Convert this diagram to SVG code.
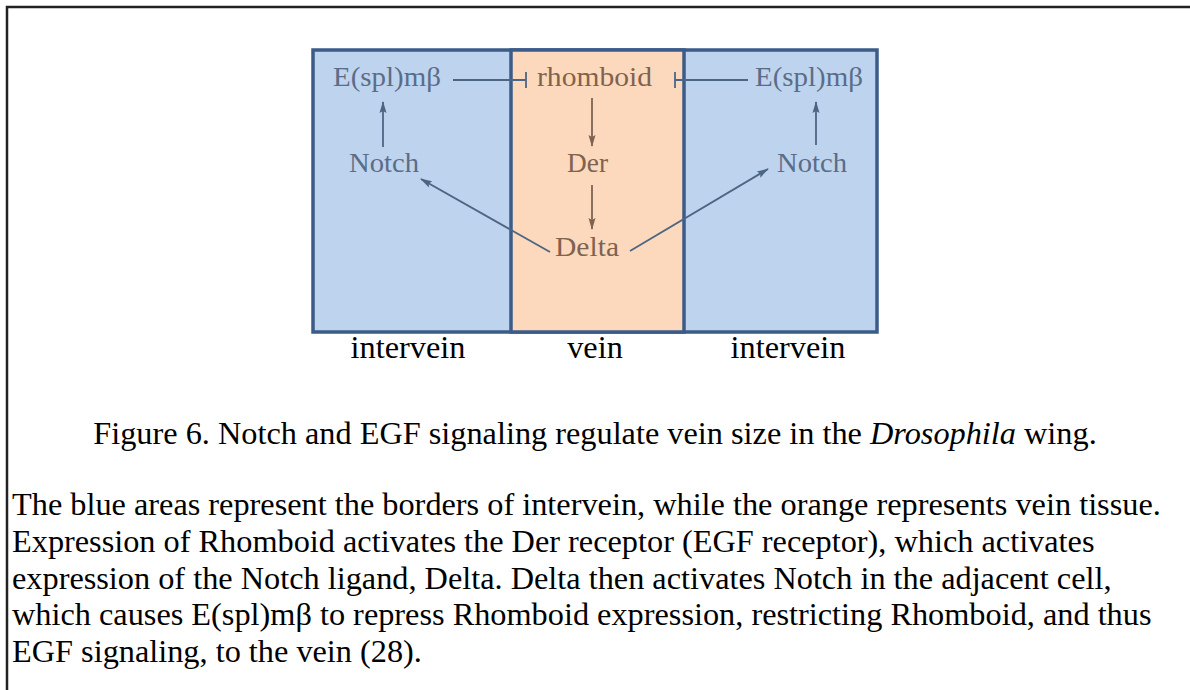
<svg xmlns="http://www.w3.org/2000/svg" width="1190" height="690" viewBox="0 0 1190 690">
<style>
.blue{fill:#bed3ed;stroke:#3b5b88;stroke-width:3.5}
.orange{fill:#fcd9bd;stroke:#3b5b88;stroke-width:3.5}
.bt{font-family:"Liberation Serif",serif;font-size:28px;fill:#5a6d88}
.ot{font-family:"Liberation Serif",serif;font-size:28px;fill:#7f634f}
.lab{font-family:"Liberation Serif",serif;font-size:32.3px;fill:#000}
.cap{font-family:"Liberation Serif",serif;font-size:32.3px;fill:#000}
.bl{stroke:#4d6584;stroke-width:1.8;fill:none}
.ol{stroke:#7d6452;stroke-width:1.8;fill:none}
</style>
<defs>
<marker id="ab" viewBox="0 0 12 8" refX="11" refY="4" markerWidth="12" markerHeight="8" orient="auto" markerUnits="userSpaceOnUse"><path d="M0,0.5 L12,4 L0,7.5 L2,4 Z" fill="#4d6584"/></marker>
<marker id="ao" viewBox="0 0 12 8" refX="11" refY="4" markerWidth="12" markerHeight="8" orient="auto" markerUnits="userSpaceOnUse"><path d="M0,0.5 L12,4 L0,7.5 L2,4 Z" fill="#7d6452"/></marker>
</defs>
<path d="M1190,7 H7 V690" fill="none" stroke="#222" stroke-width="2.5"/>
<g id="panels">
<rect class="blue" x="313" y="50" width="564" height="282"/>
<rect class="orange" x="511" y="50" width="173" height="282"/>
</g>
<g id="connectors">
<line class="bl" x1="453" y1="80" x2="526" y2="80"/>
<line class="bl" x1="526" y1="72" x2="526" y2="88"/>
<line class="bl" x1="675" y1="80" x2="748" y2="80"/>
<line class="bl" x1="675" y1="72" x2="675" y2="88"/>
<line class="bl" x1="383" y1="147" x2="383" y2="102" marker-end="url(#ab)"/>
<line class="bl" x1="816" y1="145" x2="816" y2="102" marker-end="url(#ab)"/>
<line class="ol" x1="592" y1="98" x2="592" y2="146" marker-end="url(#ao)"/>
<line class="ol" x1="592" y1="185" x2="592" y2="229" marker-end="url(#ao)"/>
<line class="bl" x1="550" y1="252" x2="421" y2="179" marker-end="url(#ab)"/>
<line class="bl" x1="630" y1="251" x2="768" y2="169" marker-end="url(#ab)"/>
</g>
<g id="espl-left"><text class="bt" x="333" y="86" textLength="108" lengthAdjust="spacingAndGlyphs">E(spl)mβ</text></g>
<g id="rhomboid"><text class="ot" x="537" y="86" textLength="115" lengthAdjust="spacingAndGlyphs">rhomboid</text></g>
<g id="espl-right"><text class="bt" x="755" y="86" textLength="108" lengthAdjust="spacingAndGlyphs">E(spl)mβ</text></g>
<g id="notch-left"><text class="bt" x="349" y="172" textLength="70" lengthAdjust="spacingAndGlyphs">Notch</text></g>
<g id="der"><text class="ot" x="567" y="172" textLength="41" lengthAdjust="spacingAndGlyphs">Der</text></g>
<g id="notch-right"><text class="bt" x="777" y="172" textLength="70" lengthAdjust="spacingAndGlyphs">Notch</text></g>
<g id="delta"><text class="ot" x="555" y="256" textLength="64" lengthAdjust="spacingAndGlyphs">Delta</text></g>
<g id="labels">
<text class="lab" x="408" y="358" text-anchor="middle">intervein</text>
<text class="lab" x="595" y="358" text-anchor="middle">vein</text>
<text class="lab" x="788" y="358" text-anchor="middle">intervein</text>
</g>
<g id="caption">
<text class="cap" x="595" y="444" text-anchor="middle">Figure 6. Notch and EGF signaling regulate vein size in the <tspan font-style="italic">Drosophila</tspan> wing.</text>
<text class="cap" x="12" y="515">The blue areas represent the borders of intervein, while the orange represents vein tissue.</text>
<text class="cap" x="12" y="552">Expression of Rhomboid activates the Der receptor (EGF receptor), which activates</text>
<text class="cap" x="12" y="589">expression of the Notch ligand, Delta. Delta then activates Notch in the adjacent cell,</text>
<text class="cap" x="12" y="625">which causes E(spl)mβ to repress Rhomboid expression, restricting Rhomboid, and thus</text>
<text class="cap" x="12" y="662">EGF signaling, to the vein (28).</text>
</g>
</svg>
